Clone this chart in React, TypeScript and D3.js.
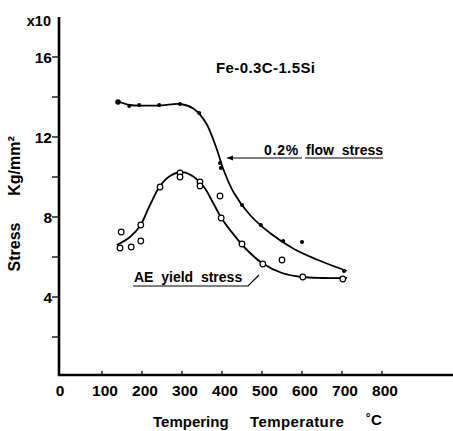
import React from "react";
import * as d3 from "d3";

// measured points: 0.2% flow stress (filled dots)
const flowTemp = [140, 168, 193, 243, 295, 343, 395, 397, 450, 497, 553, 600, 705];
const flowStress = [13.75, 13.55, 13.6, 13.6, 13.65, 13.2, 10.7, 10.45, 8.6, 7.6, 6.8, 6.75, 5.3];

// fitted curve for flow stress
const flowFitTemp = [138, 170, 210, 250, 295, 330, 360, 385, 405, 430, 470, 520, 580, 640, 712];
const flowFitStress = [13.8, 13.6, 13.57, 13.58, 13.65, 13.4, 12.7, 11.5, 10.3, 9.2, 8.1, 7.2, 6.4, 5.85, 5.3];

// measured points: AE yield stress (open circles)
const aeTemp = [145, 148, 173, 197, 197, 245, 295, 295, 345, 345, 395, 398, 450, 502, 550, 602, 702];
const aeStress = [6.45, 7.25, 6.5, 6.8, 7.6, 9.5, 10.2, 10.0, 9.75, 9.55, 9.05, 7.95, 6.65, 5.65, 5.85, 5.0, 4.9];

// fitted curve for AE yield stress
const aeFitTemp = [137, 170, 195, 220, 245, 270, 300, 330, 355, 378, 400, 430, 460, 500, 550, 600, 650, 712];
const aeFitStress = [6.6, 7.0, 7.55, 8.6, 9.55, 10.05, 10.25, 10.0, 9.5, 8.7, 7.9, 7.1, 6.4, 5.7, 5.2, 5.0, 4.95, 4.95];

const xTicks = [100, 200, 300, 400, 500, 600, 700, 800];
const xLabels = ["0", "100", "200", "300", "400", "500", "600", "700", "800"];
const yTicks = [2, 4, 6, 8, 10, 12, 14, 16];
const yLabels = [4, 8, 12, 16];

const W = 453;
const H = 431;
const font = "'Liberation Sans', Arial, sans-serif";

export default function App() {
  const x = d3.scaleLinear().domain([0, 800]).range([62, 382]);
  const y = d3.scaleLinear().domain([0, 18]).range([377, 17]);
  const axisX = 59;
  const axisY = 375;

  const line = d3
    .line<[number, number]>()
    .x((d) => x(d[0]))
    .y((d) => y(d[1]))
    .curve(d3.curveCatmullRom.alpha(0.5));

  const flowFit = flowFitTemp.map((t, i) => [t, flowFitStress[i]] as [number, number]);
  const aeFit = aeFitTemp.map((t, i) => [t, aeFitStress[i]] as [number, number]);

  const textStyle = { fontFamily: font, fontWeight: "bold" as const, fill: "#000" };

  return (
    <svg width={W} height={H} style={{ position: "absolute", left: 0, top: 0, background: "#fff" }}>
      {/* axes */}
      <line x1={axisX} x2={axisX} y1={17} y2={axisY + 1} stroke="#000" strokeWidth={2.6} />
      <line x1={axisX - 1} x2={W} y1={axisY} y2={axisY} stroke="#000" strokeWidth={2.6} />

      {yTicks.map((v) => (
        <line key={"yt" + v} x1={axisX - 7} x2={axisX} y1={y(v)} y2={y(v)} stroke="#000" strokeWidth={1.3} />
      ))}
      {yLabels.map((v) => (
        <text key={"yl" + v} x={52} y={y(v)} dy="0.36em" textAnchor="end" fontSize={15.5} {...textStyle}>
          {v}
        </text>
      ))}
      <text x={51} y={21} dy="0.36em" textAnchor="end" fontSize={14.5} {...textStyle}>
        x10
      </text>

      {xTicks.map((v) => (
        <line key={"xt" + v} x1={x(v)} x2={x(v)} y1={axisY} y2={axisY - 4} stroke="#000" strokeWidth={1.3} />
      ))}
      {xLabels.map((s, i) => (
        <text
          key={"xl" + s}
          x={i === 0 ? 60 : x(+s) + 3}
          y={390}
          dy="0.36em"
          textAnchor="middle"
          fontSize={15.5}
          {...textStyle}
        >
          {s}
        </text>
      ))}

      {/* axis titles */}
      <text x={153} y={427} fontSize={15} {...textStyle}>
        Tempering
      </text>
      <text x={250} y={427} fontSize={15} {...textStyle} letterSpacing={0.4}>
        Temperature
      </text>
      <text x={366} y={425} fontSize={15} {...textStyle}>
        ˚C
      </text>
      <text transform="translate(20,247) rotate(-90)" textAnchor="middle" fontSize={16} {...textStyle}>
        Stress
      </text>
      <text transform="translate(20,166) rotate(-90)" textAnchor="middle" fontSize={16} {...textStyle}>
        Kg/mm²
      </text>

      {/* alloy label */}
      <text x={216} y={73} fontSize={15} fontFamily={font} fontWeight={600} letterSpacing={0.4}>
        Fe-0.3C-1.5Si
      </text>

      {/* curves */}
      <path d={line(flowFit) ?? ""} fill="none" stroke="#000" strokeWidth={1.8} />
      <path d={line(aeFit) ?? ""} fill="none" stroke="#000" strokeWidth={1.8} />

      {flowTemp.map((t, i) => (
        <circle key={"f" + i} cx={x(t)} cy={y(flowStress[i])} r={i === 0 ? 2.8 : 2} fill="#000" />
      ))}
      {aeTemp.map((t, i) => (
        <circle key={"a" + i} cx={x(t)} cy={y(aeStress[i])} r={2.8} fill="#fff" stroke="#000" strokeWidth={1.2} />
      ))}

      {/* flow stress label */}
      <line x1={227} x2={302} y1={158} y2={158} stroke="#000" strokeWidth={1.2} />
      <path d="M227,158 l6,-2.5 l0,5 z" fill="#000" />
      <text x={264} y={155} fontSize={14} {...textStyle} letterSpacing={0.8}>
        0.2%
      </text>
      <text x={306} y={155} fontSize={14} {...textStyle} style={{ whiteSpace: "pre" }}>
        flow  stress
      </text>
      <line x1={305} x2={383} y1={158} y2={158} stroke="#000" strokeWidth={1.2} />

      {/* AE label */}
      <text x={134} y={282} fontSize={14} {...textStyle} style={{ whiteSpace: "pre" }}>
        AE  yield  stress
      </text>
      <polyline points="133,286 248,286 259,275" fill="none" stroke="#000" strokeWidth={1.2} />
    </svg>
  );
}
